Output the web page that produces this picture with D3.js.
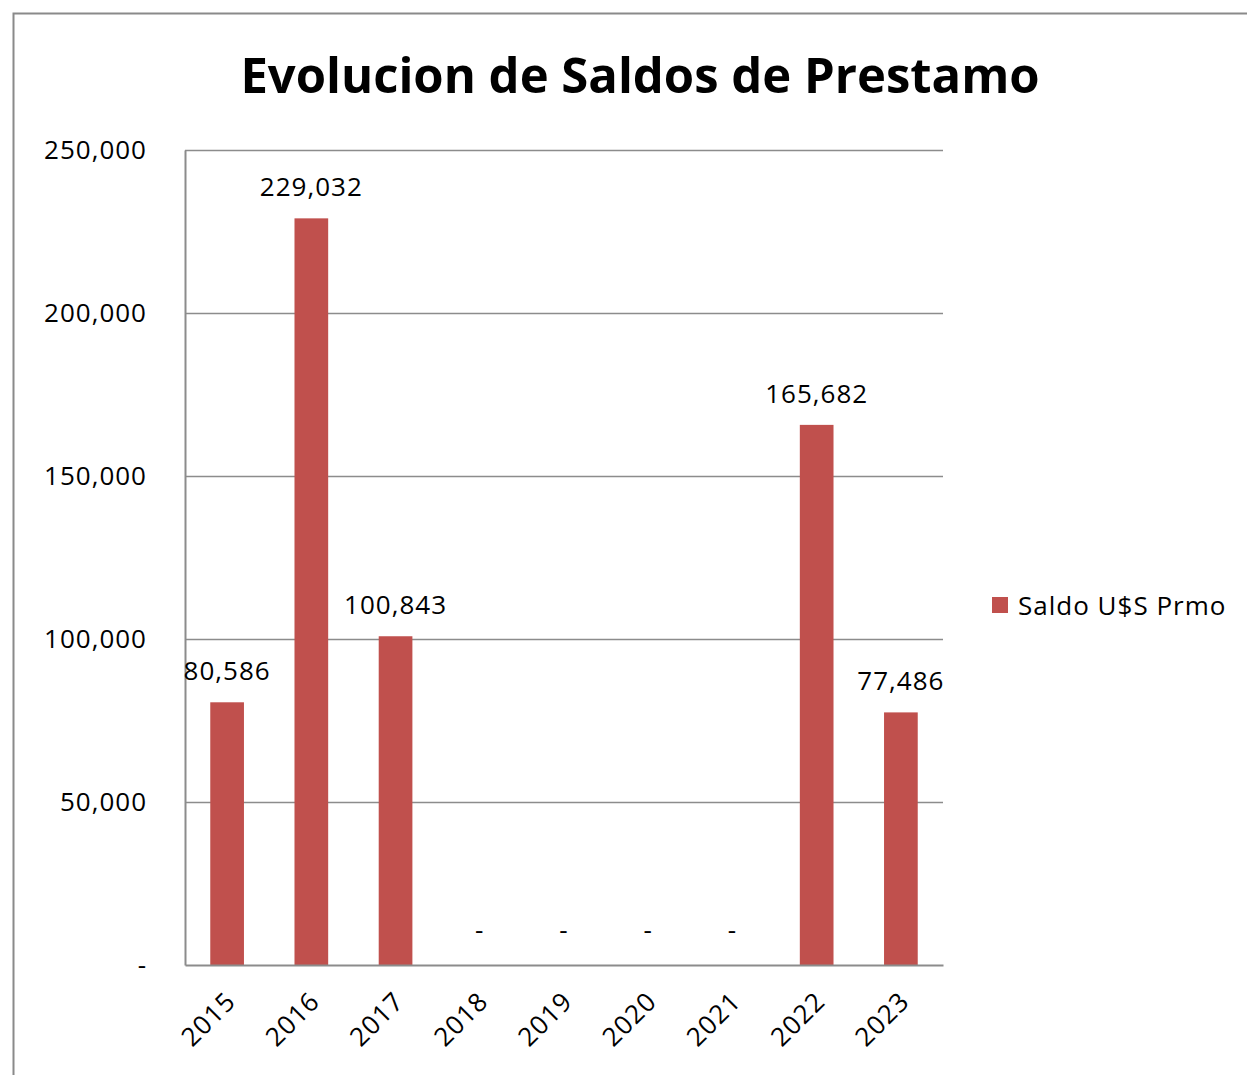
<!DOCTYPE html>
<html>
<head>
<meta charset="utf-8">
<script src="https://cdn.jsdelivr.net/npm/d3@7"></script>
<style>
  body { margin: 0; background: #fff; }
  text { font-family: "Open Sans", "DejaVu Sans", sans-serif; fill: #000; }
  .lbl { letter-spacing: 1px; }
</style>
</head>
<body>
<div id="chart"></div>
<script>
// data
const years = ["2015", "2016", "2017", "2018", "2019", "2020", "2021", "2022", "2023"];
const saldos = [80586, 229032, 100843, 0, 0, 0, 0, 165682, 77486];
const yTicks = [0, 50000, 100000, 150000, 200000, 250000];
const seriesName = "Saldo U$S Prmo";

const data = years.map((y, i) => ({ year: y, value: saldos[i] }));

const width = 1247, height = 1075;
const margin = { top: 150, bottom: 110, left: 185, right: 304 };
const barColor = "#C0504D";
const gridColor = "#8c8c8c";
const labelSize = "26px";

const svg = d3.select("#chart").append("svg")
  .attr("width", width)
  .attr("height", height);

// chart border
svg.append("rect")
  .attr("x", 13.5).attr("y", 13.5)
  .attr("width", 1260).attr("height", 1100)
  .attr("fill", "#fff")
  .attr("stroke", "#8a8a8a")
  .attr("stroke-width", 2);

const xScale = d3.scaleBand()
  .domain(years)
  .range([margin.left, width - margin.right])
  .paddingInner(0.6)
  .paddingOuter(0.3);

const yScale = d3.scaleLinear()
  .domain([0, 250000])
  .range([height - margin.bottom, margin.top]);

const fmt = d => d === 0 ? "-" : d3.format(",")(d);

// gridlines
svg.append("g")
  .selectAll("line")
  .data(yTicks.filter(d => d > 0))
  .join("line")
  .attr("x1", margin.left).attr("x2", width - margin.right)
  .attr("y1", d => Math.round(yScale(d)) + 0.5)
  .attr("y2", d => Math.round(yScale(d)) + 0.5)
  .attr("stroke", gridColor)
  .attr("stroke-width", 1.5);

// y axis
const yAxis = d3.axisLeft(yScale).tickValues(yTicks).tickFormat(fmt).tickSize(0).tickPadding(38);
const gy = svg.append("g")
  .attr("transform", `translate(${margin.left},0)`)
  .call(yAxis);
gy.select(".domain").attr("stroke", gridColor).attr("stroke-width", 2);
gy.selectAll("text").attr("class", "lbl").style("font-size", labelSize).attr("fill", "#222");

// bars
svg.append("g")
  .selectAll("rect")
  .data(data)
  .join("rect")
  .attr("x", d => xScale(d.year))
  .attr("y", d => yScale(d.value))
  .attr("width", xScale.bandwidth())
  .attr("height", d => yScale(0) - yScale(d.value))
  .attr("fill", barColor);

// x axis
const xAxis = d3.axisBottom(xScale).tickSize(0).tickPadding(0);
const gx = svg.append("g")
  .attr("transform", `translate(0,${height - margin.bottom})`)
  .call(xAxis);
gx.select(".domain").attr("stroke", gridColor).attr("stroke-width", 2);
gx.selectAll("text")
  .attr("class", "lbl")
  .style("font-size", labelSize)
  .attr("fill", "#222")
  .attr("text-anchor", "end")
  .attr("dy", null)
  .attr("y", 0)
  .attr("transform", "translate(10,38) rotate(-45)");

// data labels
svg.append("g")
  .selectAll("text")
  .data(data)
  .join("text")
  .attr("class", "lbl")
  .attr("x", d => xScale(d.year) + xScale.bandwidth() / 2)
  .attr("y", d => yScale(d.value) - (d.value === 0 ? 26 : 22))
  .attr("text-anchor", "middle")
  .style("font-size", labelSize)
  .attr("fill", "#222")
  .text(d => fmt(d.value));

// title
svg.append("text")
  .attr("x", 640)
  .attr("y", 93)
  .attr("text-anchor", "middle")
  .style("font-size", "49px")
  .style("font-weight", "bold")
  .text("Evolucion de Saldos de Prestamo");

// legend
const legend = svg.append("g").attr("transform", "translate(992,597)");
legend.append("rect").attr("width", 16).attr("height", 16).attr("fill", barColor);
legend.append("text")
  .attr("class", "lbl")
  .attr("x", 26).attr("y", 18)
  .style("font-size", labelSize)
  .attr("fill", "#222")
  .text(seriesName);
</script>
</body>
</html>
